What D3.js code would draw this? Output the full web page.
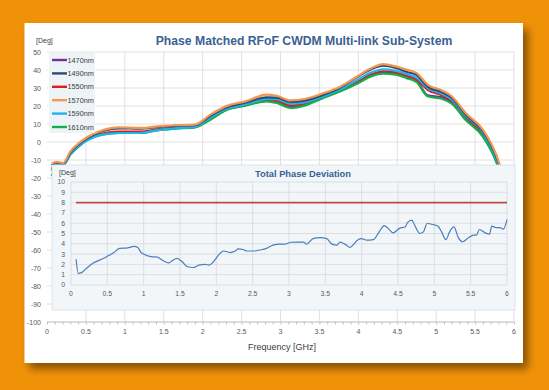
<!DOCTYPE html>
<html><head><meta charset="utf-8">
<script src="https://cdn.jsdelivr.net/npm/d3@7"></script>
<style>body{margin:0;background:#F09208;}svg{display:block;}text{font-family:"Liberation Sans",Arial,sans-serif;}</style>
</head><body>
<svg id="c" width="549" height="390"></svg>
<script>
// ---- data ----
const freq = [0.06,0.12,0.21,0.30,0.41,0.52,0.70,0.93,1.2,1.42,1.65,1.9,2.1,2.32,2.55,2.82,2.95,3.13,3.31,3.54,3.76,3.99,4.17,4.32,4.48,4.62,4.75,4.89,5.07,5.2,5.38,5.6,5.78,5.9];
const s1470 = [-16,-12.3,-12.6,-6.8,-2.1,1.3,4.3,5.3,5.3,6.8,7.7,8.3,12.9,18.2,20.4,22.9,22.4,19.8,20.8,24.8,28.2,33.0,37.1,38.6,37.9,36.2,34.0,26.0,24.8,22.2,13.0,3.8,-11.2,-28];
const s1490 = [-13,-11.5,-12,-5.8,-1.2,2.2,5.8,7.6,7.4,8.3,9.0,9.3,14.5,19.5,21.8,24.8,24.6,22.3,23.0,26.0,30.0,36.2,40.5,42.4,41.2,39.0,37.2,30.8,27.8,24.6,15.3,6.0,-9,-26];
const s1550 = [-15,-12,-12.3,-6.5,-1.8,1.6,4.6,5.8,5.8,7.0,7.9,8.5,13.3,18.4,20.6,23.0,22.8,20.3,21.0,24.5,28.5,33.5,37.6,39.3,38.6,36.8,34.6,29.0,26.0,23.0,14.0,4.8,-10.5,-27];
const s1570 = [-12,-11,-11.7,-5.2,-0.6,2.8,6.3,8.1,7.8,8.7,9.3,9.6,15.2,20.2,22.6,26.3,25.7,23.1,23.9,26.9,30.6,36.5,41.1,43.3,42,40.2,38.3,31.9,28.7,25.4,16.1,6.9,-8,-25];
const s1590 = [-16,-12,-12.5,-6.8,-2.2,1.0,4.0,5.0,5.0,6.6,7.6,8.4,13.6,18.7,20.9,24.0,23.8,21.2,22.0,25.2,29.2,34.5,38.7,40.4,39.6,37.8,35.6,30.0,26.8,23.6,14.6,5.4,-10,-27];
const s1610 = [-19,-12.6,-12.6,-7,-2.4,1.3,4.1,5,5,6.5,7.4,8.1,12.4,18,20.2,22.6,21.7,18.9,20.2,24.3,28.0,32.5,36.6,38,37.4,35.5,33.2,25.4,24.0,21.3,12.2,3.0,-12,-29];
const seriesNames = ["1470nm","1490nm","1550nm","1570nm","1590nm","1610nm"];
const seriesColors = ["#7030A0","#2E4B78","#E21A1A","#F4964E","#1CB4EE","#12B04C"];
const devFreq = [0.07,0.10,0.145,0.21,0.30,0.42,0.49,0.58,0.67,0.78,0.87,0.92,0.96,1.0,1.10,1.19,1.26,1.35,1.40,1.46,1.53,1.60,1.69,1.76,1.85,1.90,1.96,2.03,2.10,2.19,2.26,2.30,2.37,2.42,2.51,2.60,2.69,2.78,2.87,2.94,3.03,3.11,3.2,3.24,3.33,3.43,3.52,3.59,3.66,3.7,3.77,3.84,3.88,3.95,4.0,4.07,4.16,4.25,4.31,4.39,4.43,4.52,4.6,4.63,4.69,4.73,4.80,4.85,4.90,4.98,5.05,5.10,5.16,5.21,5.27,5.33,5.39,5.47,5.54,5.58,5.62,5.70,5.76,5.79,5.85,5.90,5.95,6.0];
const devVal = [2.5,1.13,1.2,1.6,2.1,2.5,2.75,3.1,3.55,3.6,3.75,3.65,3.2,3.0,2.75,2.7,2.4,2.15,2.4,2.58,2.25,1.77,1.7,1.93,2.0,1.93,2.25,2.9,3.3,3.15,3.3,3.5,3.45,3.3,3.3,3.4,3.55,3.87,3.97,3.97,4.15,4.16,4.16,3.97,4.5,4.6,4.5,3.97,3.87,4.16,3.97,3.65,3.87,4.4,4.5,4.35,4.4,5.26,5.77,5.3,5.06,5.5,5.65,6.06,6.3,5.8,5.0,5.16,5.97,5.87,5.7,5.16,4.4,5.16,5.65,4.6,4.2,4.58,4.84,4.84,5.39,5.06,4.93,5.71,5.58,5.58,5.42,6.35];
const limitFreq = [0.07, 6];
const limitVal = [8, 8];
const mainXTicks = [0,0.5,1,1.5,2,2.5,3,3.5,4,4.5,5,5.5,6];
const mainYTicks = [50,40,30,20,10,0,-10,-20,-30,-40,-50,-60,-70,-80,-90,-100];
const insetYTicks = [0,1,2,3,4,5,6,7,8,9,10];

// ---- drawing ----
const svg = d3.select("#c");
const defs = svg.append("defs");
const f = defs.append("filter").attr("id","sh").attr("x","-10%").attr("y","-10%").attr("width","130%").attr("height","130%");
f.append("feGaussianBlur").attr("in","SourceAlpha").attr("stdDeviation",4);
f.append("feOffset").attr("dx",5).attr("dy",6).attr("result","b");
f.append("feComponentTransfer").append("feFuncA").attr("type","linear").attr("slope",0.45);
const fm = f.append("feMerge"); fm.append("feMergeNode"); fm.append("feMergeNode").attr("in","SourceGraphic");

svg.append("rect").attr("width",549).attr("height",390).attr("fill","#F09208");
svg.append("rect").attr("x",24.5).attr("y",23).attr("width",498.5).attr("height",340).attr("fill","#fff").attr("filter","url(#sh)");

const x = d3.scaleLinear().domain([0,6]).range([47,514]);
const y = d3.scaleLinear().domain([-100,50]).range([322,52]);
const grid = svg.append("g");
mainYTicks.forEach(v=>grid.append("line").attr("x1",x(0)).attr("x2",x(6)).attr("y1",y(v)).attr("y2",y(v)).attr("stroke","#D9D9D9").attr("stroke-width",0.8));
mainXTicks.forEach(v=>{ if(v>0) grid.append("line").attr("x1",x(v)).attr("x2",x(v)).attr("y1",y(50)).attr("y2",y(-100)).attr("stroke","#D9D9D9").attr("stroke-width",0.8);});
svg.append("line").attr("x1",x(0)).attr("x2",x(6)).attr("y1",y(-100)).attr("y2",y(-100)).attr("stroke","#BFBFBF").attr("stroke-width",0.8);
svg.append("g").attr("transform",`translate(0,${y(-100)})`)
  .call(d3.axisBottom(x).tickValues(d3.range(0,6.001,0.1)).tickSize(2.5).tickFormat(""))
  .call(g=>{g.select(".domain").remove(); g.selectAll("line").attr("stroke","#BFBFBF");});
svg.append("g").selectAll("text").data(mainXTicks).join("text")
  .attr("x",d=>x(d)).attr("y",334).attr("text-anchor","middle").attr("font-size",7).attr("fill","#595959").text(d=>d);
svg.append("g").selectAll("text").data(mainYTicks).join("text")
  .attr("x",41).attr("y",d=>y(d)+2.5).attr("text-anchor","end").attr("font-size",7).attr("fill","#595959").text(d=>d);
svg.append("text").attr("x",36).attr("y",43).attr("font-size",7).attr("fill","#404040").text("[Deg]");
svg.append("text").attr("x",282).attr("y",350).attr("text-anchor","middle").attr("font-size",9).attr("fill","#404040").text("Frequency [GHz]");
svg.append("text").attr("x",304).attr("y",45).attr("text-anchor","middle").attr("font-size",12.2).attr("font-weight","bold").attr("fill","#3A6194").text("Phase Matched RFoF CWDM Multi-link Sub-System");

const allSeries = [s1470,s1490,s1550,s1570,s1590,s1610];
const line = d3.line().x(d=>x(d[0])).y(d=>y(d[1])).curve(d3.curveMonotoneX);
const order = [0,2,5,4,1,3];
order.forEach(i=>{
  svg.append("path").attr("d",line(freq.map((fq,k)=>[fq,allSeries[i][k]]))).attr("fill","none")
    .attr("stroke",seriesColors[i]).attr("stroke-width",2.2).attr("stroke-linejoin","round");
});

// legend
const lg = svg.append("g");
lg.append("rect").attr("x",49).attr("y",53).attr("width",46).attr("height",80).attr("fill","#EEF3F7");
seriesNames.forEach((n,i)=>{
  const yy = 60 + i*13.4;
  lg.append("line").attr("x1",52).attr("x2",67).attr("y1",yy).attr("y2",yy).attr("stroke",seriesColors[i]).attr("stroke-width",2.4);
  lg.append("text").attr("x",67.5).attr("y",yy+2.6).attr("font-size",7.3).attr("fill","#404040").text(n);
});

// inset
svg.append("rect").attr("x",52).attr("y",165).attr("width",463).attr("height",145).attr("fill","#F2F6F9").attr("stroke","#D6DEE5").attr("stroke-width",0.8);
const xi = d3.scaleLinear().domain([0,6]).range([71,507]);
const yi = d3.scaleLinear().domain([0,10]).range([285,182]);
const gi = svg.append("g");
insetYTicks.forEach(v=>gi.append("line").attr("x1",xi(0)).attr("x2",xi(6)).attr("y1",yi(v)).attr("y2",yi(v)).attr("stroke","#D3D9DF").attr("stroke-width",0.8));
mainXTicks.forEach(v=>gi.append("line").attr("x1",xi(v)).attr("x2",xi(v)).attr("y1",yi(10)).attr("y2",yi(0)).attr("stroke","#D3D9DF").attr("stroke-width",0.8));
svg.append("g").selectAll("text").data(mainXTicks).join("text")
  .attr("x",d=>xi(d)).attr("y",296).attr("text-anchor","middle").attr("font-size",6.8).attr("fill","#595959").text(d=>d);
svg.append("g").selectAll("text").data(insetYTicks).join("text")
  .attr("x",65).attr("y",d=>yi(d)+2.4).attr("text-anchor","end").attr("font-size",6.8).attr("fill","#595959").text(d=>d);
svg.append("text").attr("x",59).attr("y",175).attr("font-size",7).attr("fill","#404040").text("[Deg]");
svg.append("text").attr("x",303).attr("y",176.5).attr("text-anchor","middle").attr("font-size",9.3).attr("font-weight","bold").attr("fill","#3A6194").text("Total Phase Deviation");
const li = d3.line().x(d=>xi(d[0])).y(d=>yi(d[1]));
svg.append("path").attr("d",li(limitFreq.map((fq,k)=>[fq,limitVal[k]]))).attr("fill","none").attr("stroke","#BE4B48").attr("stroke-width",1.6);
svg.append("path").attr("d",li.curve(d3.curveMonotoneX)(devFreq.map((fq,k)=>[fq,devVal[k]]))).attr("fill","none").attr("stroke","#4A7EBB").attr("stroke-width",1.2);
</script>
</body></html>
